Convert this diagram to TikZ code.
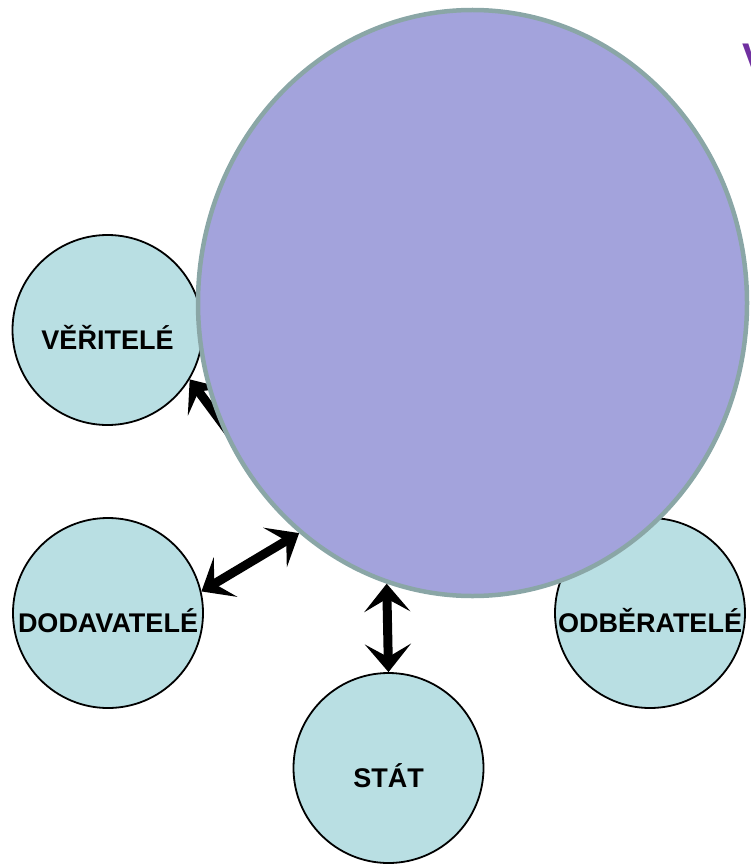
\documentclass[tikz,border=0pt]{standalone}
\usepackage{fontspec}
\setmainfont{Liberation Sans}
\usetikzlibrary{shapes.geometric,arrows.meta}
\definecolor{bubblefill}{HTML}{B9DFE3}
\definecolor{firmfill}{HTML}{A3A3DC}
\definecolor{firmedge}{HTML}{8AA6A6}
\definecolor{titlepurple}{HTML}{7030A0}
\tikzset{
  bubble/.style={circle, draw=black, line width=1.8pt, fill=bubblefill,
    minimum size=190pt, inner sep=0pt, text height=38pt, text depth=0pt,
    font=\fontsize{27}{30}\selectfont\bfseries},
  firm/.style={ellipse, draw=firmedge, line width=4.5pt, fill=firmfill,
    minimum width=549pt, minimum height=586pt, inner sep=0pt},
  head/.tip={Stealth[length=28pt,width=46pt,inset=13pt]},
  link/.style={line width=9pt, head-head},
  halflink/.style={line width=9pt, head-}
}
\begin{document}
\begin{tikzpicture}[x=1pt,y=-1pt]
\useasboundingbox (0,0) rectangle (750,864);

% partner circles
\node[bubble] (vet) at (107.5,330) {VĚŘITELÉ};
\node[bubble] (dod) at (108,613) {DODAVATELÉ};
\node[bubble] (stat) at (388.5,768) {STÁT};
\node[bubble] (odb) at (650,613) {ODBĚRATELÉ};

% link from the creditors, running under the firm
\coordinate (vetend) at (290,515);
\draw[halflink] (vet.-31) -- (vetend);

% the firm
\node[firm] (firm) at (472.5,303) {};

% heading, cut by the page edge
\node[anchor=base west, inner sep=0pt, text=titlepurple,
  font=\fontsize{40}{44}\selectfont\bfseries] (title) at (742,72) {V};

% links to suppliers and the state
\draw[link] (dod.13) -- (firm.233);
\draw[link] (stat.north) -- (firm.253);
\end{tikzpicture}
\end{document}
